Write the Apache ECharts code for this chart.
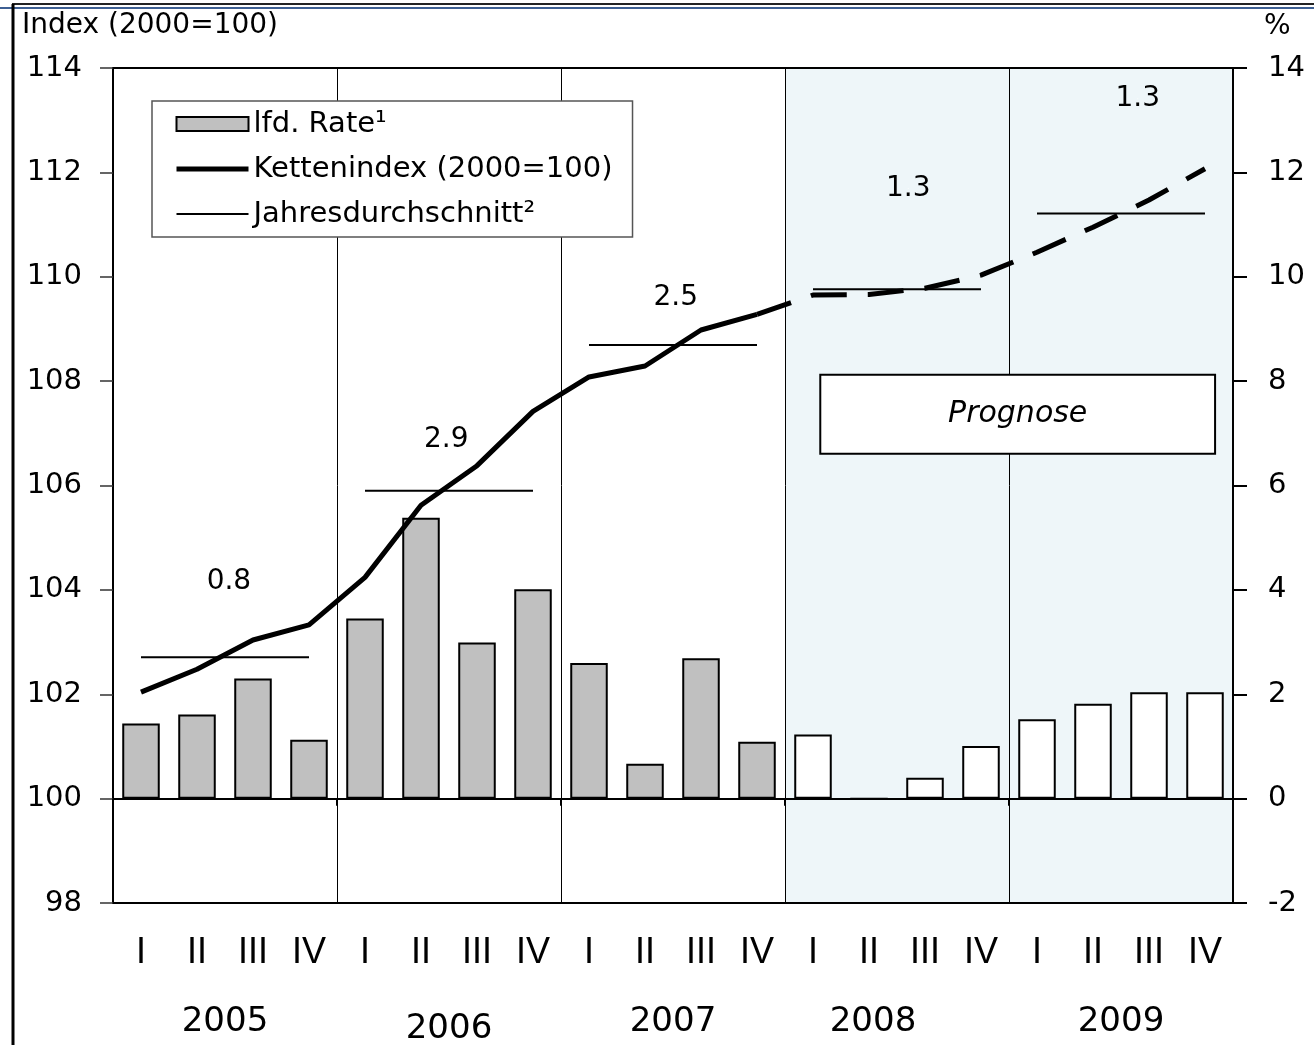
<!DOCTYPE html>
<html>
<head>
<meta charset="utf-8">
<title>Kettenindex und laufende Rate</title>
<script src="https://cdn.jsdelivr.net/npm/echarts@6/dist/echarts.min.js"></script>
<style>
  html, body { margin: 0; padding: 0; background: #fff; }
  #chart { width: 1314px; height: 1045px; }
</style>
</head>
<body>
<div id="chart"></div>
<script>
// Quartale 2005 - 2009
const quarters = [
  'I', 'II', 'III', 'IV', 'I', 'II', 'III', 'IV', 'I', 'II',
  'III', 'IV', 'I', 'II', 'III', 'IV', 'I', 'II', 'III', 'IV',
]
const years = ['2005', '2006', '2007', '2008', '2009']
// lfd. Rate in % (rechte Achse)
const rate = [
  1.44, 1.61, 2.3, 1.13, 3.45, 5.38, 2.99, 4.01, 2.6, 0.67,
  2.69, 1.09, 1.23, 0, 0.4, 1.01, 1.52, 1.82, 2.04, 2.04,
]
// Kettenindex 2000=100 (linke Achse)
const chainIndex = [
  102.04, 102.48, 103.04, 103.33, 104.24, 105.62, 106.38, 107.42, 108.08, 108.29,
  108.98, 109.28, 109.65, 109.66, 109.78, 110.03, 110.47, 110.95, 111.47, 112.07,
]
// Jahresdurchschnitt des Index
const yearAvg = [102.71, 105.9, 108.69, 109.76, 111.21]
// Jahresrate in %
const yearRate = ['0.8', '2.9', '2.5', '1.3', '1.3']

const lastActual = 11 // IV/2007, danach Prognose
const forecastFrom = 12

// Lage der Jahresraten (Quartalsachse 0..20 / Index)
const yearRatePos = [
  [2.07, 104.16], [5.95, 106.87], [10.05, 109.59], [14.2, 111.69], [18.3, 113.41],
]
// kleine Verschiebungen der Jahreszahlen wie im Original
const yearLabelPad = {
  '2006': [7, 0, 0, 0],
  '2008': [0, 48, 0, 0],
}

const font = 'DejaVu Sans'
const chart = echarts.init(document.getElementById('chart'))

const avgSeries = years.map((y, k) => ({
  name: 'Jahresdurchschnitt²',
  type: 'line',
  xAxisIndex: 0,
  yAxisIndex: 0,
  z: 4,
  symbol: 'none',
  lineStyle: { color: '#000', width: 2 },
  itemStyle: { color: '#000' },
  data: quarters.map((q, i) => (Math.floor(i / 4) === k ? yearAvg[k] : null)),
}))

const hiddenSymbol = { color: 'transparent', borderColor: 'transparent', borderWidth: 0 }

const option = {
  animation: false,
  backgroundColor: '#fff',
  title: [
    {
      text: 'Index (2000=100)',
      left: 17,
      top: 7,
      textStyle: { fontFamily: font, fontSize: 28, fontWeight: 'normal', color: '#000' },
    },
    {
      text: '%',
      left: 1259,
      top: 8,
      textStyle: { fontFamily: font, fontSize: 28, fontWeight: 'normal', color: '#000' },
    },
  ],
  legend: {
    orient: 'vertical',
    left: 152,
    top: 101,
    z: 10,
    padding: [8, 20, 8, 22],
    itemGap: 15,
    itemWidth: 72,
    itemHeight: 14,
    backgroundColor: '#fff',
    borderColor: '#555',
    borderWidth: 1.5,
    borderRadius: 0,
    textStyle: { fontFamily: font, fontSize: 29, color: '#000', lineHeight: 30 },
    data: [
      { name: 'lfd. Rate¹', icon: 'rect' },
      { name: 'Kettenindex (2000=100)', itemStyle: hiddenSymbol, lineStyle: { width: 5, color: '#000' } },
      { name: 'Jahresdurchschnitt²', itemStyle: hiddenSymbol, lineStyle: { width: 2, color: '#000' } },
    ],
  },
  grid: {
    left: 113,
    right: 81,
    top: 68,
    bottom: 142,
    show: true,
    z: 3,
    backgroundColor: 'transparent',
    borderColor: '#000',
    borderWidth: 2,
    outerBoundsMode: 'none',
  },
  xAxis: [
    {
      type: 'category',
      data: quarters,
      position: 'bottom',
      z: 3,
      axisLine: { onZero: false, lineStyle: { color: '#000', width: 2 } },
      axisTick: { show: false },
      axisLabel: {
        margin: 32,
        fontFamily: 'Liberation Sans',
        fontSize: 36,
        color: '#000',
      },
      splitLine: { show: false },
    },
    {
      type: 'value',
      min: 0,
      max: 20,
      interval: 4,
      position: 'bottom',
      z: 3,
      axisLine: {
        onZero: true,
        onZeroAxisIndex: 1,
        lineStyle: { color: '#000', width: 2 },
      },
      axisTick: { show: true, length: 7, lineStyle: { color: '#000', width: 2 } },
      axisLabel: { show: false },
      splitLine: { show: false },
    },
    {
      type: 'category',
      data: years.map((y) =>
        yearLabelPad[y] ? { value: y, textStyle: { padding: yearLabelPad[y] } } : y
      ),
      position: 'bottom',
      axisLine: { show: false, onZero: false },
      axisTick: { show: false },
      axisLabel: { margin: 102, fontFamily: font, fontSize: 34, color: '#000' },
      splitLine: { show: false },
    },
  ],
  yAxis: [
    {
      type: 'value',
      min: 98,
      max: 114,
      interval: 2,
      position: 'left',
      z: 3,
      axisLine: { show: true, onZero: false, lineStyle: { color: '#000', width: 2 } },
      axisTick: { show: true, length: 13, lineStyle: { color: '#333', width: 1.5 } },
      axisLabel: { margin: 31, fontFamily: font, fontSize: 29, color: '#000' },
      splitLine: { show: false },
    },
    {
      type: 'value',
      min: -2,
      max: 14,
      interval: 2,
      position: 'right',
      z: 3,
      axisLine: { show: true, onZero: false, lineStyle: { color: '#000', width: 2 } },
      axisTick: { show: true, length: 14, lineStyle: { color: '#000', width: 2 } },
      axisLabel: { margin: 35, fontFamily: font, fontSize: 29, color: '#000' },
      splitLine: { show: false },
    },
  ],
  series: [
    {
      // Prognosezeitraum hinterlegt, Jahrestrennlinien
      name: 'bg',
      type: 'line',
      xAxisIndex: 1,
      yAxisIndex: 0,
      data: [],
      silent: true,
      markArea: {
        silent: true,
        z: 1,
        itemStyle: { color: '#eef6f9' },
        data: [[{ xAxis: forecastFrom }, { xAxis: 20 }]],
      },
      markLine: {
        silent: true,
        z: 2,
        symbol: 'none',
        label: { show: false },
        lineStyle: { color: '#000', width: 1, type: 'solid' },
        data: [4, 8, 12, 16].map((x) => ({ xAxis: x })),
      },
    },
    {
      name: 'lfd. Rate¹',
      type: 'bar',
      xAxisIndex: 0,
      yAxisIndex: 1,
      barWidth: '67%',
      z: 3,
      itemStyle: { color: '#c0c0c0', borderColor: '#000', borderWidth: 2 },
      data: rate.map((v, i) =>
        i >= forecastFrom ? { value: v, itemStyle: { color: '#fff' } } : v
      ),
    },
    {
      name: 'Kettenindex (2000=100)',
      type: 'line',
      xAxisIndex: 0,
      yAxisIndex: 0,
      z: 4,
      symbol: 'none',
      lineStyle: { color: '#000', width: 5 },
      itemStyle: { color: '#000' },
      data: chainIndex.map((v, i) => (i <= lastActual ? v : null)),
    },
    {
      name: 'Kettenindex Prognose',
      type: 'line',
      xAxisIndex: 0,
      yAxisIndex: 0,
      z: 4,
      symbol: 'none',
      lineStyle: { color: '#000', width: 5, type: [36, 21] },
      itemStyle: { color: '#000' },
      data: chainIndex.map((v, i) => (i >= lastActual ? v : null)),
    },
    ...avgSeries,
    {
      name: 'Jahresrate',
      type: 'scatter',
      xAxisIndex: 1,
      yAxisIndex: 0,
      z: 4,
      silent: true,
      symbolSize: 1,
      itemStyle: { color: '#fff', opacity: 1 },
      label: {
        show: true,
        position: 'inside',
        fontFamily: font,
        fontSize: 28,
        color: '#000',
        formatter: (p) => yearRate[p.dataIndex],
      },
      data: yearRatePos,
    },
    {
      name: 'Prognose',
      type: 'line',
      xAxisIndex: 1,
      yAxisIndex: 0,
      data: [],
      silent: true,
      markArea: {
        silent: true,
        z: 6,
        itemStyle: { color: '#fff', borderColor: '#000', borderWidth: 2 },
        label: {
          show: true,
          position: 'inside',
          fontFamily: font,
          fontStyle: 'italic',
          fontSize: 30,
          color: '#000',
        },
        data: [[{ name: 'Prognose', xAxis: 12.63, yAxis: 108.12 }, { xAxis: 19.68, yAxis: 106.61 }]],
      },
    },
  ],
  graphic: [
    {
      type: 'line',
      shape: { x1: 0, y1: 8, x2: 1314, y2: 8 },
      style: { stroke: '#3d5f93', lineWidth: 2 },
    },
    {
      type: 'line',
      shape: { x1: 12, y1: 4, x2: 1314, y2: 4 },
      style: { stroke: '#222', lineWidth: 2 },
    },
    {
      type: 'line',
      shape: { x1: 13, y1: 4, x2: 13, y2: 1045 },
      style: { stroke: '#000', lineWidth: 3 },
    },
  ],
}

chart.setOption(option)
</script>
</body>
</html>
